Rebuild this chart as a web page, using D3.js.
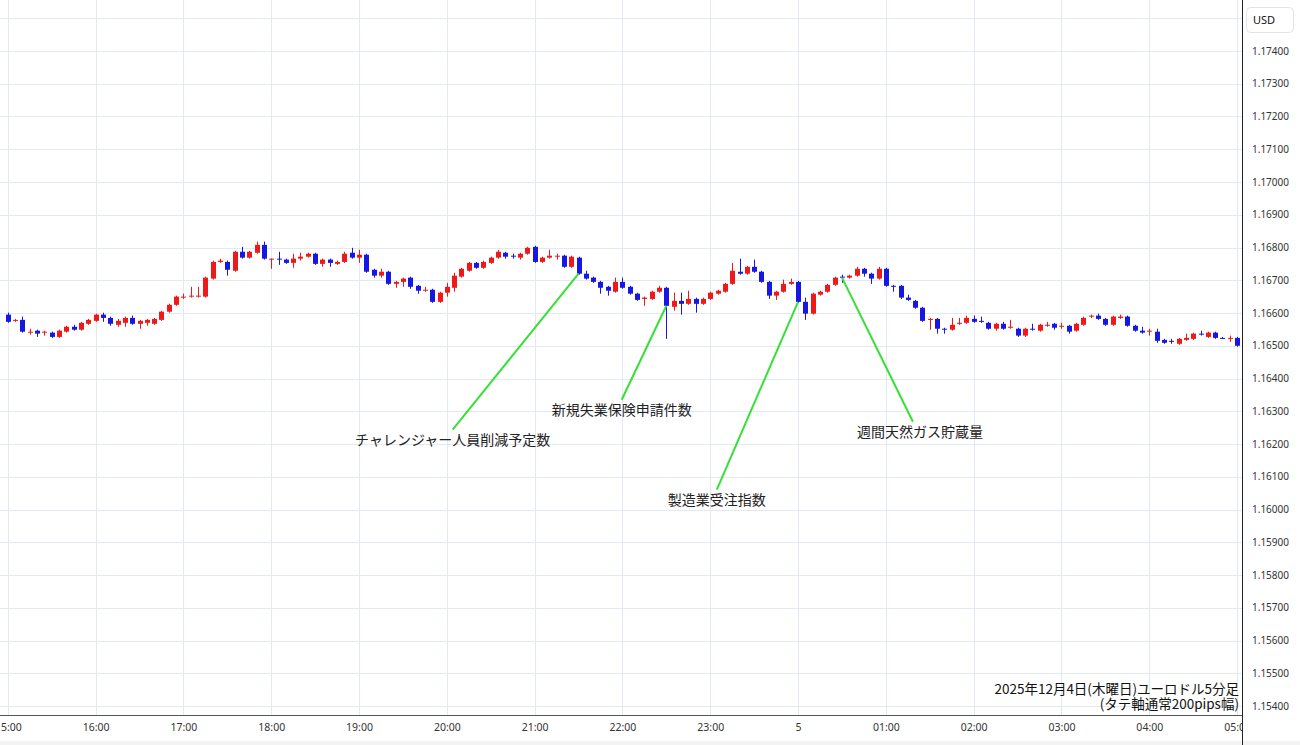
<!DOCTYPE html>
<html>
<head>
<meta charset="utf-8">
<script src="https://cdn.jsdelivr.net/npm/d3@7"></script>
<style>
body { margin: 0; background: #fff; }
svg { display: block; font-family: "Noto Sans", sans-serif; }
.jp { font-family: "Noto Sans CJK JP", "Noto Sans", sans-serif; }
</style>
</head>
<body>
<svg width="1300" height="745"></svg>
<script>
var svg = d3.select("svg");

//==================================================
// data: EUR/USD 5 minute candles, 2025-12-04 15:00 -> 2025-12-05 05:00

var startTime = new Date(2025, 11, 4, 15, 0);
var endTime = new Date(2025, 11, 5, 5, 0);

var opens = [
  1.16595, 1.16576, 1.16579, 1.16540, 1.16546, 1.16540, 1.16540, 1.16527, 1.16543, 1.16558,
  1.16549, 1.16567, 1.16576, 1.16595, 1.16585, 1.16564, 1.16570, 1.16585, 1.16567, 1.16570,
  1.16567, 1.16579, 1.16604, 1.16625, 1.16647, 1.16650, 1.16650, 1.16650, 1.16705, 1.16756,
  1.16756, 1.16729, 1.16787, 1.16769, 1.16784, 1.16808, 1.16763, 1.16766, 1.16763, 1.16753,
  1.16766, 1.16772, 1.16781, 1.16750, 1.16763, 1.16750, 1.16756, 1.16784, 1.16769, 1.16778,
  1.16732, 1.16714, 1.16726, 1.16689, 1.16695, 1.16708, 1.16683, 1.16668, 1.16671, 1.16634,
  1.16662, 1.16677, 1.16711, 1.16729, 1.16753, 1.16738, 1.16753, 1.16769, 1.16784, 1.16775,
  1.16769, 1.16781, 1.16802, 1.16756, 1.16769, 1.16772, 1.16775, 1.16741, 1.16769, 1.16720,
  1.16708, 1.16695, 1.16680, 1.16665, 1.16695, 1.16680, 1.16659, 1.16643, 1.16643, 1.16665,
  1.16677, 1.16619, 1.16637, 1.16628, 1.16643, 1.16628, 1.16643, 1.16659, 1.16665, 1.16689,
  1.16726, 1.16720, 1.16741, 1.16726, 1.16695, 1.16653, 1.16665, 1.16689, 1.16695, 1.16634,
  1.16598, 1.16656, 1.16665, 1.16686, 1.16711, 1.16708, 1.16714, 1.16735, 1.16720, 1.16705,
  1.16735, 1.16683, 1.16683, 1.16647, 1.16637, 1.16616, 1.16579, 1.16582, 1.16552, 1.16549,
  1.16567, 1.16570, 1.16582, 1.16576, 1.16570, 1.16552, 1.16567, 1.16555, 1.16552, 1.16531,
  1.16552, 1.16546, 1.16561, 1.16567, 1.16558, 1.16561, 1.16546, 1.16564, 1.16589, 1.16592,
  1.16582, 1.16564, 1.16585, 1.16589, 1.16561, 1.16546, 1.16543, 1.16543, 1.16518, 1.16515,
  1.16506, 1.16518, 1.16521, 1.16537, 1.16527, 1.16540, 1.16524, 1.16521, 1.16524
];
var highs = [
  1.16601, 1.16582, 1.16589, 1.16552, 1.16549, 1.16546, 1.16543, 1.16549, 1.16561, 1.16564,
  1.16573, 1.16582, 1.16598, 1.16601, 1.16589, 1.16582, 1.16589, 1.16592, 1.16579, 1.16582,
  1.16585, 1.16607, 1.16628, 1.16653, 1.16659, 1.16680, 1.16680, 1.16711, 1.16760, 1.16766,
  1.16760, 1.16790, 1.16802, 1.16790, 1.16818, 1.16818, 1.16766, 1.16787, 1.16766, 1.16781,
  1.16784, 1.16784, 1.16784, 1.16766, 1.16766, 1.16760, 1.16787, 1.16799, 1.16793, 1.16781,
  1.16735, 1.16735, 1.16729, 1.16698, 1.16708, 1.16711, 1.16686, 1.16680, 1.16674, 1.16665,
  1.16692, 1.16723, 1.16738, 1.16756, 1.16756, 1.16760, 1.16772, 1.16793, 1.16787, 1.16781,
  1.16784, 1.16802, 1.16805, 1.16772, 1.16793, 1.16781, 1.16778, 1.16775, 1.16772, 1.16729,
  1.16711, 1.16698, 1.16683, 1.16708, 1.16708, 1.16683, 1.16662, 1.16650, 1.16668, 1.16683,
  1.16680, 1.16662, 1.16662, 1.16668, 1.16647, 1.16647, 1.16665, 1.16671, 1.16692, 1.16753,
  1.16766, 1.16744, 1.16763, 1.16729, 1.16698, 1.16668, 1.16702, 1.16705, 1.16698, 1.16647,
  1.16662, 1.16668, 1.16689, 1.16711, 1.16717, 1.16717, 1.16741, 1.16738, 1.16723, 1.16741,
  1.16738, 1.16686, 1.16686, 1.16656, 1.16640, 1.16619, 1.16585, 1.16585, 1.16555, 1.16585,
  1.16585, 1.16592, 1.16592, 1.16589, 1.16573, 1.16570, 1.16573, 1.16579, 1.16555, 1.16555,
  1.16567, 1.16567, 1.16573, 1.16570, 1.16570, 1.16564, 1.16570, 1.16589, 1.16595, 1.16598,
  1.16585, 1.16592, 1.16595, 1.16592, 1.16564, 1.16558, 1.16552, 1.16552, 1.16521, 1.16521,
  1.16524, 1.16537, 1.16540, 1.16546, 1.16543, 1.16543, 1.16527, 1.16531, 1.16527
];
var lows = [
  1.16570, 1.16573, 1.16540, 1.16534, 1.16527, 1.16531, 1.16524, 1.16524, 1.16540, 1.16546,
  1.16546, 1.16564, 1.16573, 1.16573, 1.16561, 1.16558, 1.16558, 1.16564, 1.16552, 1.16561,
  1.16564, 1.16576, 1.16601, 1.16622, 1.16643, 1.16647, 1.16647, 1.16647, 1.16702, 1.16753,
  1.16714, 1.16726, 1.16766, 1.16766, 1.16781, 1.16763, 1.16735, 1.16747, 1.16750, 1.16738,
  1.16760, 1.16769, 1.16747, 1.16741, 1.16741, 1.16747, 1.16753, 1.16766, 1.16753, 1.16723,
  1.16708, 1.16708, 1.16686, 1.16677, 1.16680, 1.16674, 1.16659, 1.16665, 1.16631, 1.16631,
  1.16650, 1.16665, 1.16708, 1.16726, 1.16735, 1.16735, 1.16750, 1.16766, 1.16766, 1.16766,
  1.16763, 1.16778, 1.16753, 1.16753, 1.16766, 1.16763, 1.16738, 1.16738, 1.16717, 1.16702,
  1.16692, 1.16659, 1.16653, 1.16662, 1.16674, 1.16656, 1.16637, 1.16622, 1.16640, 1.16662,
  1.16521, 1.16607, 1.16595, 1.16625, 1.16601, 1.16625, 1.16640, 1.16656, 1.16662, 1.16686,
  1.16717, 1.16717, 1.16723, 1.16692, 1.16643, 1.16640, 1.16662, 1.16686, 1.16631, 1.16579,
  1.16595, 1.16653, 1.16662, 1.16683, 1.16692, 1.16705, 1.16711, 1.16711, 1.16689, 1.16702,
  1.16680, 1.16665, 1.16643, 1.16637, 1.16613, 1.16573, 1.16549, 1.16537, 1.16537, 1.16546,
  1.16564, 1.16567, 1.16570, 1.16570, 1.16549, 1.16546, 1.16549, 1.16552, 1.16527, 1.16527,
  1.16546, 1.16543, 1.16558, 1.16549, 1.16552, 1.16537, 1.16543, 1.16561, 1.16585, 1.16579,
  1.16561, 1.16561, 1.16582, 1.16558, 1.16543, 1.16537, 1.16531, 1.16509, 1.16506, 1.16506,
  1.16503, 1.16515, 1.16518, 1.16531, 1.16524, 1.16521, 1.16521, 1.16512, 1.16497
];
var closes = [
  1.16573, 1.16579, 1.16543, 1.16543, 1.16537, 1.16543, 1.16527, 1.16546, 1.16558, 1.16549,
  1.16570, 1.16579, 1.16595, 1.16585, 1.16567, 1.16576, 1.16585, 1.16567, 1.16576, 1.16579,
  1.16582, 1.16604, 1.16625, 1.16650, 1.16650, 1.16653, 1.16653, 1.16708, 1.16756, 1.16760,
  1.16732, 1.16787, 1.16769, 1.16787, 1.16808, 1.16766, 1.16766, 1.16763, 1.16753, 1.16766,
  1.16772, 1.16781, 1.16750, 1.16763, 1.16753, 1.16756, 1.16781, 1.16769, 1.16778, 1.16726,
  1.16714, 1.16726, 1.16689, 1.16695, 1.16705, 1.16680, 1.16668, 1.16671, 1.16634, 1.16662,
  1.16680, 1.16714, 1.16735, 1.16753, 1.16738, 1.16756, 1.16769, 1.16787, 1.16772, 1.16772,
  1.16781, 1.16799, 1.16756, 1.16769, 1.16775, 1.16775, 1.16741, 1.16772, 1.16720, 1.16705,
  1.16695, 1.16677, 1.16668, 1.16695, 1.16677, 1.16659, 1.16640, 1.16647, 1.16665, 1.16677,
  1.16622, 1.16637, 1.16628, 1.16643, 1.16628, 1.16643, 1.16662, 1.16668, 1.16689, 1.16729,
  1.16720, 1.16741, 1.16726, 1.16695, 1.16653, 1.16665, 1.16689, 1.16695, 1.16634, 1.16598,
  1.16659, 1.16665, 1.16686, 1.16708, 1.16708, 1.16714, 1.16735, 1.16720, 1.16705, 1.16735,
  1.16683, 1.16680, 1.16647, 1.16640, 1.16616, 1.16576, 1.16582, 1.16552, 1.16549, 1.16564,
  1.16570, 1.16585, 1.16573, 1.16573, 1.16552, 1.16567, 1.16552, 1.16558, 1.16531, 1.16552,
  1.16549, 1.16564, 1.16564, 1.16555, 1.16561, 1.16543, 1.16567, 1.16585, 1.16592, 1.16582,
  1.16564, 1.16589, 1.16589, 1.16561, 1.16546, 1.16540, 1.16546, 1.16515, 1.16509, 1.16512,
  1.16521, 1.16524, 1.16537, 1.16534, 1.16540, 1.16524, 1.16521, 1.16524, 1.16500
];

// price axis ticks (1.17500 sits under the USD box, grid only)
var priceTicks = d3.range(1154, 1176).map(function(d) { return d / 1000; });
var priceLabels = d3.range(1154, 1175).map(function(d) { return d / 1000; });

// economic releases: which candle the line starts at, where the line ends (candle slot, price)
var eventNames = ["チャレンジャー人員削減予定数", "新規失業保険申請件数", "製造業受注指数", "週間天然ガス貯蔵量"];
var eventCandle = [78, 90, 108, 114];
var eventSlot = [60.8, 83.9, 96.9, 123.7];
var eventPrice = [1.16244, 1.16335, 1.16061, 1.16268];

var titleLines = ["2025年12月4日(木曜日)ユーロドル5分足", "(タテ軸通常200pips幅)"];

//==================================================
// scales

var plotRight = 1242, plotBottom = 715;
var fiveMin = 5 * 60 * 1000;

var x = d3.scaleTime()
    .domain([startTime, endTime])
    .range([7.8, 1237.1]);

var y = d3.scaleLinear()
    .domain([1.154, 1.174])
    .range([706, 51]);

var slotTime = function(i) { return new Date(startTime.getTime() + i * fiveMin); };

var candles = opens.map(function(o, i) {
    return { t: slotTime(i), o: o, h: highs[i], l: lows[i], c: closes[i] };
});

svg.append("defs").append("clipPath").attr("id", "plotclip")
    .append("rect").attr("x", 0).attr("y", 0).attr("width", plotRight).attr("height", 745);

//==================================================
// grid

var grid = svg.append("g").attr("clip-path", "url(#plotclip)");
grid.selectAll("line.h").data(priceTicks).enter().append("line")
    .attr("class", "h")
    .attr("x1", 0).attr("x2", plotRight)
    .attr("y1", function(d) { return Math.round(y(d)) + 0.5; })
    .attr("y2", function(d) { return Math.round(y(d)) + 0.5; })
    .attr("stroke", "#e3e9f0");
grid.selectAll("line.v").data(x.ticks(d3.timeHour.every(1))).enter().append("line")
    .attr("class", "v")
    .attr("x1", function(d) { return Math.round(x(d)) + 0.5; })
    .attr("x2", function(d) { return Math.round(x(d)) + 0.5; })
    .attr("y1", 0).attr("y2", plotBottom)
    .attr("stroke", "#e3e9f0");

//==================================================
// candles, red = up, blue = down

var red = "#f01919", blue = "#1717e3";
var cg = svg.append("g").attr("clip-path", "url(#plotclip)");
var candle = cg.selectAll("g").data(candles).enter().append("g");
candle.append("line")
    .attr("x1", function(d) { return Math.round(x(d.t)) + 0.5; })
    .attr("x2", function(d) { return Math.round(x(d.t)) + 0.5; })
    .attr("y1", function(d) { return y(d.h); })
    .attr("y2", function(d) { return y(d.l); })
    .attr("stroke", function(d) { return d.c > d.o ? red : blue; });
candle.append("rect")
    .attr("x", function(d) { return Math.round(x(d.t)) - 2; })
    .attr("width", 5)
    .attr("y", function(d) { return y(Math.max(d.o, d.c)); })
    .attr("height", function(d) { return Math.max(1, Math.abs(y(d.o) - y(d.c))); })
    .attr("fill", function(d) { return d.c > d.o ? red : blue; });

//==================================================
// release annotations

var labelDx = [0, 0, 0, 7]; // last label sits a bit right of its line
var ev = svg.append("g");
eventNames.forEach(function(name, k) {
    var c = candles[eventCandle[k]];
    var ex = x(slotTime(eventSlot[k])), ey = y(eventPrice[k]);
    ev.append("line")
        .attr("x1", x(c.t)).attr("y1", y(c.c))
        .attr("x2", ex).attr("y2", ey)
        .attr("stroke", "#36e036")
        .attr("stroke-width", 2);
    ev.append("text")
        .attr("class", "jp")
        .attr("x", ex + labelDx[k]).attr("y", ey + 15)
        .attr("text-anchor", "middle")
        .attr("font-size", 14)
        .attr("fill", "#222")
        .text(name);
});

//==================================================
// axes

svg.append("rect").attr("x", 0).attr("y", 741).attr("width", 1300).attr("height", 4).attr("fill", "#f3f3f3");

var xAxis = d3.axisBottom(x)
    .ticks(d3.timeHour.every(1))
    .tickSize(0)
    .tickPadding(9)
    .tickFormat(function(d) {
        return d.getHours() == 0 ? String(d.getDate()) : d3.timeFormat("%H:%M")(d);
    });
var xg = svg.append("g")
    .attr("clip-path", "url(#plotclip)")
    .append("g")
    .attr("transform", "translate(0," + plotBottom + ")")
    .call(xAxis);
xg.select(".domain").remove();
xg.selectAll("text").attr("font-size", 10.5).attr("fill", "#333").attr("font-family", "Noto Sans, sans-serif");

svg.append("line")
    .attr("x1", 0).attr("x2", plotRight + 1)
    .attr("y1", plotBottom + 0.5).attr("y2", plotBottom + 0.5)
    .attr("stroke", "#555");
svg.append("line")
    .attr("x1", plotRight + 0.5).attr("x2", plotRight + 0.5)
    .attr("y1", 0).attr("y2", 745)
    .attr("stroke", "#222");

var yAxis = d3.axisRight(y)
    .tickValues(priceLabels)
    .tickSize(0)
    .tickPadding(0)
    .tickFormat(d3.format(".5f"));
var yg = svg.append("g")
    .attr("transform", "translate(1252,0)")
    .call(yAxis);
yg.select(".domain").remove();
yg.selectAll("text").attr("font-size", 10).attr("fill", "#333").attr("font-family", "Noto Sans, sans-serif");

// currency box
svg.append("rect")
    .attr("x", 1246.5).attr("y", 7.5).attr("width", 47).attr("height", 25).attr("rx", 4)
    .attr("fill", "#fff").attr("stroke", "#e4e4e4");
svg.append("text")
    .attr("x", 1253).attr("y", 23.5)
    .attr("font-size", 11).attr("fill", "#111")
    .text("USD");

//==================================================
// caption bottom right

svg.selectAll("text.cap").data(titleLines).enter().append("text")
    .attr("class", "cap jp")
    .attr("x", 1239)
    .attr("y", function(d, i) { return 694 + i * 14.5; })
    .attr("text-anchor", "end")
    .attr("font-size", 13.5)
    .attr("fill", "#111")
    .text(function(d) { return d; });
</script>
</body>
</html>
